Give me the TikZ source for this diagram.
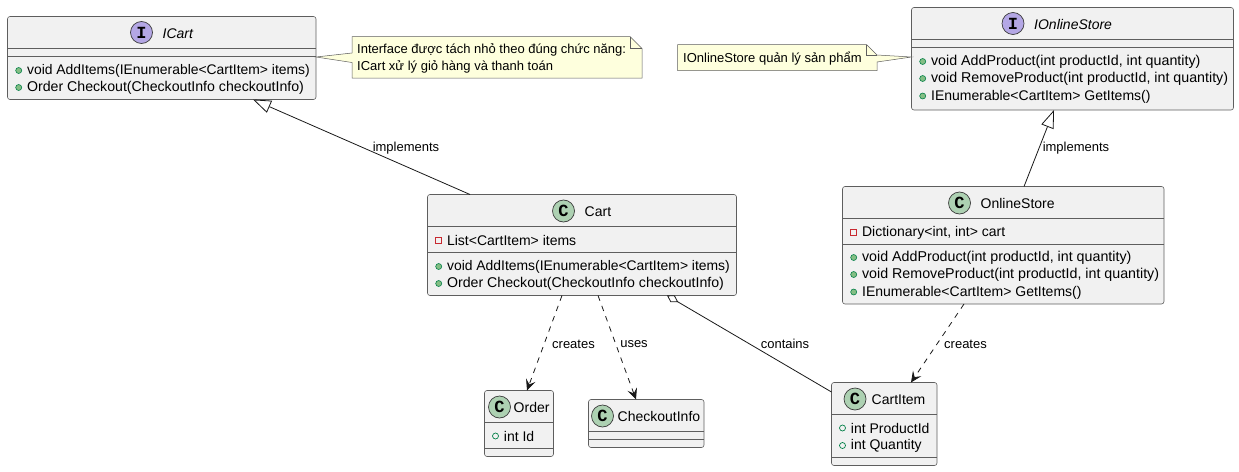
\documentclass[tikz,border=0pt]{standalone}
\usepackage{fontspec}
\setmainfont{Liberation Sans}
\newfontfamily\spotfont{Liberation Mono}
\usetikzlibrary{arrows.meta,calc}
\definecolor{boxfill}{HTML}{F1F1F1}
\definecolor{boxline}{HTML}{5E5E5E}
\definecolor{linkc}{HTML}{181818}
\definecolor{notefill}{HTML}{FEFFDD}
\definecolor{classc}{HTML}{ADD1B2}
\definecolor{ifacec}{HTML}{B4A7E5}
\definecolor{pubf}{HTML}{84BE84}
\definecolor{pubs}{HTML}{038048}
\definecolor{privs}{HTML}{C82930}
\tikzset{
  umlbox/.style={draw=boxline,fill=boxfill,line width=.6pt,rounded corners=2.5pt,anchor=north west,inner sep=0pt,outer sep=0pt},
  divider/.style={draw=boxline,line width=.6pt},
  spot/.style={circle,draw=linkc!85,line width=.7pt,minimum size=22pt,inner sep=0pt,font=\spotfont\fontsize{17}{17}\selectfont\bfseries},
  title/.style={anchor=west,inner sep=0pt,font=\fontsize{14}{17}\selectfont},
  member/.style={anchor=west,inner sep=0pt,font=\fontsize{14}{17}\selectfont},
  pubm/.style={circle,draw=pubs,fill=pubf,line width=.6pt,minimum size=6pt,inner sep=0pt},
  pubo/.style={circle,draw=pubs,fill=none,line width=.7pt,minimum size=6pt,inner sep=0pt},
  privm/.style={rectangle,draw=privs,fill=none,line width=.8pt,minimum size=6pt,inner sep=0pt},
  edgelabel/.style={inner sep=0pt,font=\fontsize{13}{15}\selectfont},
  notetext/.style={anchor=west,inner sep=0pt,font=\fontsize{13}{15}\selectfont},
  link/.style={draw=linkc,line width=.8pt},
  dep/.style={link,dash pattern=on 5.5pt off 5.5pt,-{Stealth[length=11pt,width=10pt,inset=4.5pt,fill=linkc]}},
  realize/.style={link,{Triangle[open,length=18pt,width=13pt,fill=white]}-},
  agg/.style={link,{Diamond[open,length=13pt,width=8pt,fill=white]}-},
  notebody/.style={draw=boxline,fill=notefill,line width=.5pt},
}
\newcommand{\wider}{\fontsize{14.25}{17}\selectfont}
% name, x, y, w, h
\newcommand{\umlclass}[5]{\node[umlbox,minimum width=#4pt,minimum height=#5pt] (#1) at (#2,#3) {};}
% member: name, style, marker x, y, text
\newcommand{\umlmember}[5]{%
  \node[#2] (#1m) at (#3,#4) {};
  \node[member] (#1t) at (#3+8.2,#4+.6) {#5};}
\begin{document}
\begin{tikzpicture}[x=1pt,y=-1pt]
\useasboundingbox (0,0) rectangle (1239,471);

% ICart
\umlclass{icart}{7.5}{16.5}{308.5}{83}
\draw[divider] (7.5,48.5) -- (316,48.5) (7.5,56.5) -- (316,56.5);
\node[spot,fill=ifacec] (icarts) at (141.5,32.5) {I};
\node[title,font=\fontsize{14}{17}\selectfont\itshape] (icartn) at (162.5,33.6) {ICart};
\umlmember{ia}{pubm}{18.7}{70.5}{\fontsize{13.9}{17}\selectfont void AddItems(IEnumerable<CartItem> items)}
\umlmember{ib}{pubm}{18.7}{87.5}{\fontsize{14.15}{17}\selectfont Order Checkout(CheckoutInfo checkoutInfo)}

% IOnlineStore
\umlclass{istore}{911.5}{7.5}{322}{102.5}
\draw[divider] (911.5,39.5) -- (1233.5,39.5) (911.5,47.5) -- (1233.5,47.5);
\node[spot,fill=ifacec] (istores) at (1013,23.5) {I};
\node[title,font=\fontsize{14}{17}\selectfont\itshape] (istoren) at (1034,24.6) {IOnlineStore};
\umlmember{sa}{pubm}{922.7}{61.5}{\wider void AddProduct(int productId, int quantity)}
\umlmember{sb}{pubm}{922.7}{78.5}{\wider void RemoveProduct(int productId, int quantity)}
\umlmember{sc}{pubm}{922.7}{96}{IEnumerable<CartItem> GetItems()}

% Cart
\umlclass{cart}{427.5}{194.5}{309}{101}
\draw[divider] (427.5,226.5) -- (736.5,226.5) (427.5,252.5) -- (736.5,252.5);
\node[spot,fill=classc] (carts) at (563.5,211) {C};
\node[title] (cartn) at (584.5,211.6) {Cart};
\umlmember{ca}{privm}{438.7}{240}{List<CartItem> items}
\umlmember{cb}{pubm}{438.7}{266.5}{\fontsize{13.9}{17}\selectfont void AddItems(IEnumerable<CartItem> items)}
\umlmember{cc}{pubm}{438.7}{283.5}{\fontsize{14.15}{17}\selectfont Order Checkout(CheckoutInfo checkoutInfo)}

% OnlineStore
\umlclass{store}{842.5}{186.5}{321.5}{117.5}
\draw[divider] (842.5,218.5) -- (1164,218.5) (842.5,244.5) -- (1164,244.5);
\node[spot,fill=classc] (stores) at (959.5,203) {C};
\node[title] (storen) at (980.5,203.6) {OnlineStore};
\umlmember{oa}{privm}{853.7}{232}{Dictionary<int, int> cart}
\umlmember{ob}{pubm}{853.7}{257.5}{\wider void AddProduct(int productId, int quantity)}
\umlmember{oc}{pubm}{853.7}{274.5}{\wider void RemoveProduct(int productId, int quantity)}
\umlmember{od}{pubm}{853.7}{292}{IEnumerable<CartItem> GetItems()}

% Order
\umlclass{order}{484.5}{390.5}{69}{66}
\draw[divider] (484.5,422.5) -- (553.5,422.5) (484.5,448.5) -- (553.5,448.5);
\node[spot,fill=classc] (orders) at (499.5,407) {C};
\node[title] (ordern) at (513.5,407.6) {Order};
\umlmember{oi}{pubo}{495.5}{436}{int Id}

% CheckoutInfo
\umlclass{info}{588.5}{399.5}{115.5}{48}
\draw[divider] (588.5,431.5) -- (704,431.5) (588.5,439.5) -- (704,439.5);
\node[spot,fill=classc] (infos) at (602.5,416) {C};
\node[title] (infon) at (617.5,416.6) {CheckoutInfo};

% CartItem
\umlclass{item}{831.5}{382.5}{105.5}{83}
\draw[divider] (831.5,414.5) -- (937,414.5) (831.5,457.5) -- (937,457.5);
\node[spot,fill=classc] (items) at (855,399) {C};
\node[title] (itemn) at (871.5,399.6) {CartItem};
\umlmember{pa}{pubo}{842.5}{428}{int ProductId}
\umlmember{pb}{pubo}{842.5}{445.5}{int Quantity}

% Note for ICart
\coordinate (noteA) at (352,36.5);
\draw[notebody] (noteA) -- ++(278,0) -- ++(12,12) -- ++(0,29.5) -- ++(-290,0) -- ++(0,-15.5)
  -- ($(icart.north east)+(0,40.5)$) -- ($(noteA)+(0,16.5)$) -- cycle;
\draw[notebody,fill=none] ($(noteA)+(278,0)$) -- ++(0,12) -- ++(12,0);
\node[notetext] (noteAa) at (357,49.6) {Interface được tách nhỏ theo đúng chức năng:};
\node[notetext] (noteAb) at (357,66.6) {ICart xử lý giỏ hàng và thanh toán};

% Note for IOnlineStore
\coordinate (noteB) at (677.5,44.5);
\draw[notebody] (noteB) -- ++(189,0) -- ++(10.5,10.5) -- ($(istore.north west)+(0,49.5)$)
  -- (877,62) -- (877,70.5) -- (677.5,70.5) -- cycle;
\draw[notebody,fill=none] ($(noteB)+(189,0)$) -- ++(0,10.5) -- ++(10.5,0);
\node[notetext] (noteBa) at (683,58.6) {IOnlineStore quản lý sản phẩm};

% Connectors
\path[realize] ($(icart.south west)+(245.5,0)$) -- ($(cart.north west)+(42.5,0)$);
\path[realize] ($(istore.south west)+(142.5,0)$) -- ($(store.north west)+(181.5,0)$);
\path[dep] ($(cart.south west)+(134.5,0)$) -- ($(order.north west)+(42.5,0)$);
\path[dep] ($(cart.south west)+(170.5,0)$) -- ($(info.north west)+(47.5,0)$);
\path[agg] ($(cart.south west)+(239.5,0)$) -- ($(item.north west)+(0,9.5)$);
\path[dep] ($(store.south west)+(121.5,0)$) -- ($(item.north west)+(79.5,0)$);

% Labels
\node[edgelabel] (l1) at (406,148) {implements};
\node[edgelabel] (l2) at (1076,148) {implements};
\node[edgelabel] (l3) at (573.5,344) {creates};
\node[edgelabel] (l4) at (634,344) {uses};
\node[edgelabel] (l5) at (785,344) {contains};
\node[edgelabel] (l6) at (965.5,344) {creates};
\end{tikzpicture}
\end{document}
